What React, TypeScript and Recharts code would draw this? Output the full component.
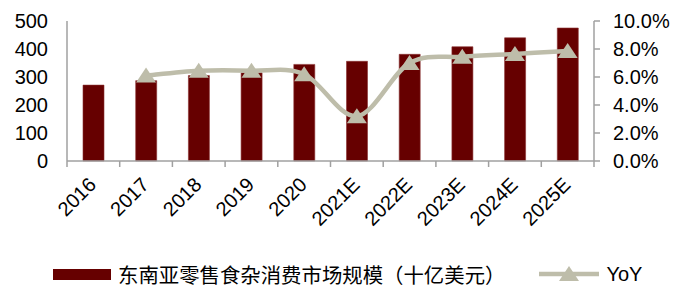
import {
  Bar,
  ComposedChart,
  Line,
  XAxis,
  YAxis,
} from "recharts";

const years = ["2016", "2017", "2018", "2019", "2020", "2021E", "2022E", "2023E", "2024E", "2025E"];
// 东南亚零售食杂消费市场规模（十亿美元）
const marketSize = [271, 287, 305, 315, 345, 356, 381, 408, 440, 475];
// YoY, percent
const yoy = [null, 6.1, 6.45, 6.45, 6.2, 3.2, 7.0, 7.45, 7.65, 7.85];
const leftTicks = [0, 100, 200, 300, 400, 500];
const rightTicks = [0, 2, 4, 6, 8, 10];

const BAR_COLOR = "#660000";
const LINE_COLOR = "#BEBDAA";
const AXIS_COLOR = "#A0A0A0";
const LATIN = "'Liberation Sans', Arial, sans-serif";
const CJK = "'Noto Sans CJK SC', sans-serif";

const W = 685;
const H = 292;
const PLOT_LEFT = 67;
const PLOT_RIGHT = 594;
const PLOT_TOP = 21;
const PLOT_BOTTOM = 161;
const BAND = (PLOT_RIGHT - PLOT_LEFT) / years.length;

const data = years.map((year, i) => ({ year, size: marketSize[i], yoy: yoy[i] }));

// Excel-style smoothed line (Catmull-Rom, control points at 1/6 of the neighbour span)
function excelCurve(context: any) {
  let pts: [number, number][] = [];
  return {
    areaStart() {},
    areaEnd() {},
    lineStart() {
      pts = [];
    },
    point(x: number, y: number) {
      pts.push([x, y]);
    },
    lineEnd() {
      if (!pts.length) return;
      context.moveTo(pts[0][0], pts[0][1]);
      for (let i = 0; i < pts.length - 1; i++) {
        const p0 = pts[Math.max(i - 1, 0)];
        const p1 = pts[i];
        const p2 = pts[i + 1];
        const p3 = pts[Math.min(i + 2, pts.length - 1)];
        context.bezierCurveTo(
          p1[0] + (p2[0] - p0[0]) / 6,
          p1[1] + (p2[1] - p0[1]) / 6,
          p2[0] - (p3[0] - p1[0]) / 6,
          p2[1] - (p3[1] - p1[1]) / 6,
          p2[0],
          p2[1],
        );
      }
    },
  };
}

function YearTick(props: any) {
  const { x, index, payload } = props;
  const left = x - BAND / 2;
  const right = x + BAND / 2;
  return (
    <g>
      <line x1={left} x2={left} y1={PLOT_BOTTOM} y2={PLOT_BOTTOM + 6} stroke={AXIS_COLOR} strokeWidth={1.5} />
      {index === years.length - 1 && (
        <line x1={right} x2={right} y1={PLOT_BOTTOM} y2={PLOT_BOTTOM + 6} stroke={AXIS_COLOR} strokeWidth={1.5} />
      )}
      <text
        x={0}
        y={0}
        transform={`translate(${x + 4}, ${PLOT_BOTTOM + 25}) rotate(-45)`}
        textAnchor="end"
        fontSize={20}
        fontFamily={LATIN}
        fill="#000"
      >
        {payload.value}
      </text>
    </g>
  );
}

function TriangleDot(props: any) {
  const { cx, cy, payload } = props;
  if (payload.yoy == null || cx == null || cy == null) return null;
  return (
    <polygon
      points={`${cx},${cy - 8} ${cx + 10},${cy + 7} ${cx - 10},${cy + 7}`}
      fill={LINE_COLOR}
    />
  );
}

export default function App() {
  return (
    <div style={{ position: "absolute", left: 0, top: 0, width: W, height: H, background: "#fff" }}>
      <ComposedChart
        width={W}
        height={H}
        data={data}
        margin={{ top: PLOT_TOP, right: 0, left: 0, bottom: 0 }}
      >
        <XAxis
          dataKey="year"
          xAxisId="x"
          height={H - PLOT_BOTTOM}
          axisLine={{ stroke: AXIS_COLOR, strokeWidth: 1.5 }}
          tickLine={false}
          tick={<YearTick />}
          interval={0}
        />
        <YAxis
          yAxisId="left"
          orientation="left"
          width={PLOT_LEFT}
          domain={[0, 500]}
          ticks={leftTicks}
          axisLine={{ stroke: AXIS_COLOR, strokeWidth: 1.5 }}
          tickLine={false}
          tickSize={6}
          tickMargin={13}
          tick={{ fill: "#000", fontSize: 20, fontFamily: LATIN }}
        />
        <YAxis
          yAxisId="right"
          orientation="right"
          width={W - PLOT_RIGHT}
          domain={[0, 10]}
          ticks={rightTicks}
          axisLine={{ stroke: AXIS_COLOR, strokeWidth: 1.5 }}
          tickLine={{ stroke: AXIS_COLOR, strokeWidth: 1.5 }}
          tickSize={6}
          tickMargin={13}
          tickFormatter={(v: number) => `${v.toFixed(1)}%`}
          tick={{ fill: "#000", fontSize: 20, fontFamily: LATIN }}
        />
        <Bar
          dataKey="size"
          xAxisId="x"
          yAxisId="left"
          fill={BAR_COLOR}
          stroke="#8A3030"
          strokeWidth={0.6}
          barSize={21}
          isAnimationActive={false}
        />
        <Line
          dataKey="yoy"
          xAxisId="x"
          yAxisId="right"
          type={excelCurve as any}
          stroke={LINE_COLOR}
          strokeWidth={4.5}
          dot={<TriangleDot />}
          activeDot={false}
          connectNulls={false}
          isAnimationActive={false}
        />
      </ComposedChart>
      <div
        style={{
          position: "absolute",
          left: 53,
          top: 262,
          display: "flex",
          alignItems: "center",
          height: 24,
          whiteSpace: "nowrap",
        }}
      >
        <span style={{ display: "inline-block", width: 58, height: 11, background: BAR_COLOR }} />
        <span style={{ marginLeft: 7, fontFamily: CJK, fontSize: 20.4, color: "#000", lineHeight: "24px" }}>
          东南亚零售食杂消费市场规模（十亿美元）
        </span>
        <svg width={62} height={20} style={{ marginLeft: 34 }}>
          <line x1={0} x2={60} y1={10} y2={10} stroke={LINE_COLOR} strokeWidth={4.5} />
          <polygon points="30,2 40,17 20,17" fill={LINE_COLOR} />
        </svg>
        <span style={{ marginLeft: 5, fontFamily: LATIN, fontSize: 20, color: "#000", lineHeight: "24px" }}>
          YoY
        </span>
      </div>
    </div>
  );
}
